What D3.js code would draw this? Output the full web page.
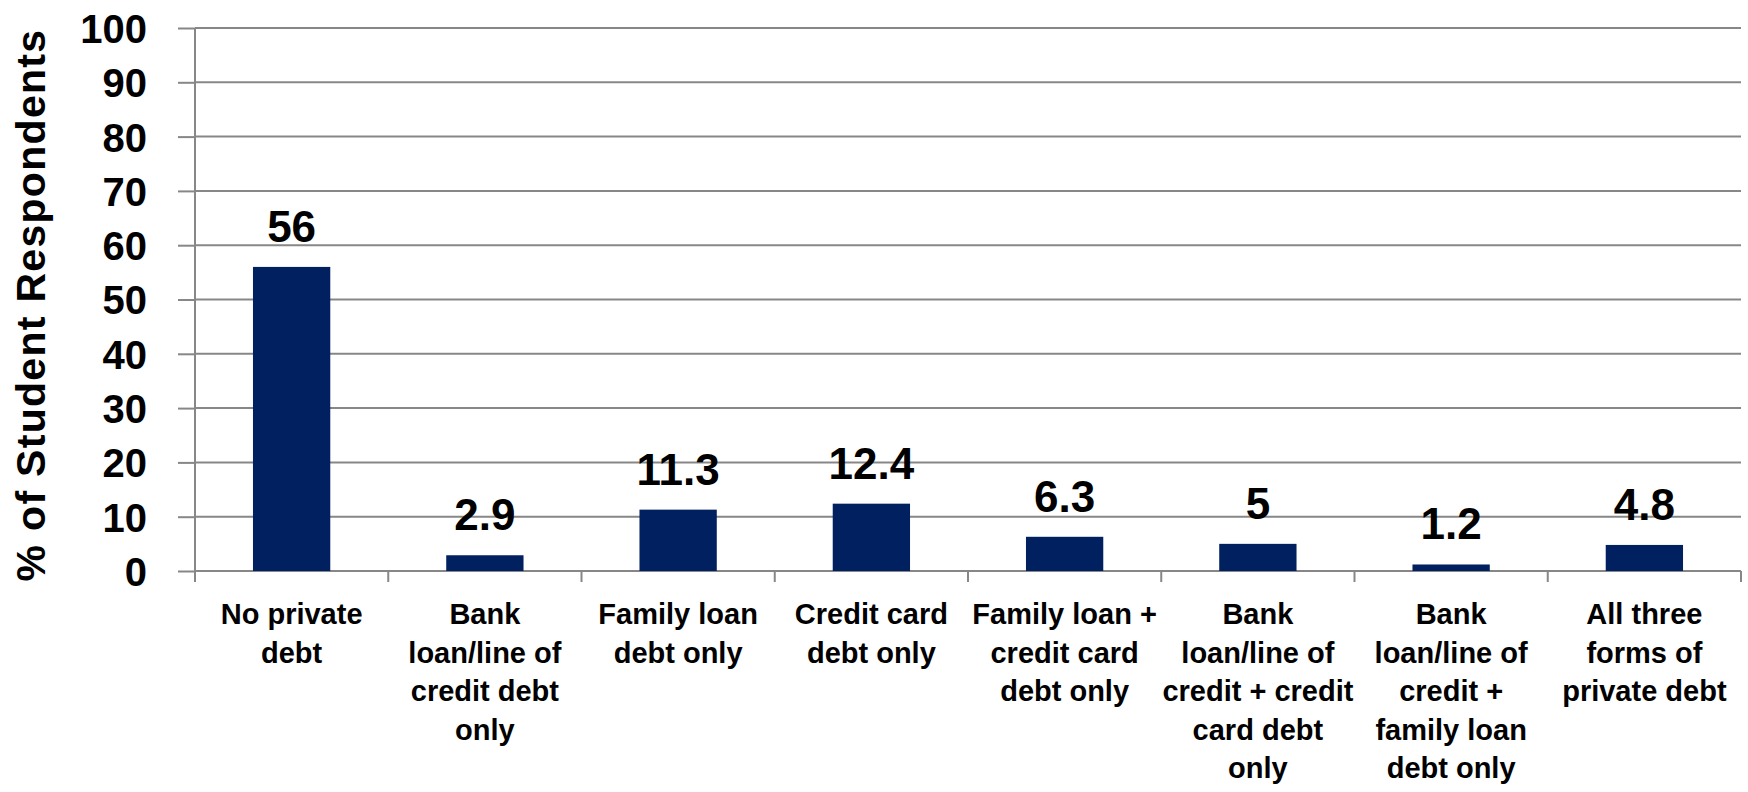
<!DOCTYPE html>
<html>
<head>
<meta charset="utf-8">
<script src="https://cdn.jsdelivr.net/npm/d3@7"></script>
<style>
  html, body { margin: 0; padding: 0; background: #fff; }
  svg { display: block; }
  text { font-family: "Liberation Sans", Arial, sans-serif; font-weight: bold; fill: #000; }
</style>
</head>
<body>
<svg id="chart" width="1748" height="792"></svg>
<script>
// Private debt categories (each label split into its display lines)
const categories = [
  ["No private", "debt"],
  ["Bank", "loan/line of", "credit debt", "only"],
  ["Family loan", "debt only"],
  ["Credit card", "debt only"],
  ["Family loan +", "credit card", "debt only"],
  ["Bank", "loan/line of", "credit + credit", "card debt", "only"],
  ["Bank", "loan/line of", "credit +", "family loan", "debt only"],
  ["All three", "forms of", "private debt"]
];
const values = [56, 2.9, 11.3, 12.4, 6.3, 5, 1.2, 4.8];
const yTicks = [0, 10, 20, 30, 40, 50, 60, 70, 80, 90, 100];
const yTitle = "% of Student Respondents";

const svg = d3.select("#chart");
const margin = { left: 195, right: 7, top: 28, bottom: 221 };
const W = 1748, H = 792;
const x0 = margin.left, x1 = W - margin.right;
const y0 = H - margin.bottom, y1 = margin.top;

const x = d3.scaleBand()
  .domain(d3.range(categories.length))
  .range([x0, x1])
  .paddingInner(0.6)
  .paddingOuter(0.3);
const xEdge = d3.scaleLinear().domain([0, categories.length]).range([x0, x1]);
const y = d3.scaleLinear().domain([0, 100]).range([y0, y1]);

const gridColor = "#878787";

// horizontal gridlines + y ticks
const yAxis = d3.axisLeft(y).tickValues(yTicks).tickSize(17).tickPadding(31);
const gy = svg.append("g").attr("transform", `translate(${x0},0)`).call(yAxis);
gy.select(".domain").remove();
gy.selectAll(".tick line").attr("stroke", gridColor).attr("stroke-width", 2);
gy.selectAll(".tick text")
  .style("font-size", "40px")
  .attr("dy", "0.36em");

svg.append("g").selectAll("line.grid")
  .data(yTicks)
  .join("line")
  .attr("x1", x0).attr("x2", x1)
  .attr("y1", d => y(d)).attr("y2", d => y(d))
  .attr("stroke", gridColor).attr("stroke-width", 2);

// vertical axis line
svg.append("line")
  .attr("x1", x0).attr("x2", x0)
  .attr("y1", y(100)).attr("y2", y0 + 11)
  .attr("stroke", gridColor).attr("stroke-width", 2);

// category boundary ticks
svg.append("g").selectAll("line.ctick")
  .data(d3.range(1, categories.length + 1))
  .join("line")
  .attr("x1", d => xEdge(d)).attr("x2", d => xEdge(d))
  .attr("y1", y0).attr("y2", y0 + 11)
  .attr("stroke", gridColor).attr("stroke-width", 2);

// bars
svg.append("g").selectAll("rect")
  .data(values)
  .join("rect")
  .attr("x", (d, i) => x(i))
  .attr("width", x.bandwidth())
  .attr("y", d => y(d))
  .attr("height", d => y(0) - y(d))
  .attr("fill", "#002060");

// value labels
svg.append("g").selectAll("text")
  .data(values)
  .join("text")
  .attr("x", (d, i) => x(i) + x.bandwidth() / 2)
  .attr("y", d => y(d) - 25)
  .attr("text-anchor", "middle")
  .style("font-size", "44px")
  .text(d => d);

// category labels
const labels = svg.append("g").selectAll("text")
  .data(categories)
  .join("text")
  .attr("text-anchor", "middle")
  .style("font-size", "29px")
  .attr("x", (d, i) => x(i) + x.bandwidth() / 2)
  .attr("y", 624);
labels.selectAll("tspan")
  .data((d, i) => d.map(line => ({ line, i })))
  .join("tspan")
  .attr("x", d => x(d.i) + x.bandwidth() / 2)
  .attr("dy", (d, j) => j === 0 ? 0 : 38.5)
  .text(d => d.line);

// y-axis title
svg.append("text")
  .attr("transform", `translate(45, ${(y(100) + y0 + 11) / 2}) rotate(-90)`)
  .attr("text-anchor", "middle")
  .style("font-size", "41px")
  .style("letter-spacing", "1.3px")
  .text(yTitle);
</script>
</body>
</html>
